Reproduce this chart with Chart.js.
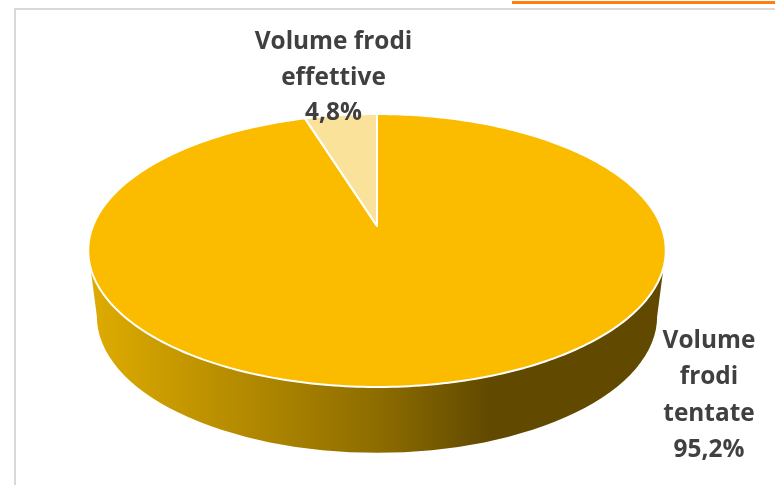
<!DOCTYPE html>
<html>
<head>
<meta charset="utf-8">
<title>Volume frodi</title>
<script src="https://cdn.jsdelivr.net/npm/chart.js@4"></script>
<style>
  html, body { margin: 0; padding: 0; background: #fff; }
  #wrap { position: relative; width: 775px; height: 485px; overflow: hidden; }
  #pieChart { position: absolute; left: 0; top: 0; }
  .rule { position: absolute; background: #d9d9d9; }
  #ruleTop { left: 14px; top: 8px; width: 761px; height: 2px; }
  #ruleLeft { left: 14px; top: 8px; width: 2px; height: 477px; }
  #ruleAccent { left: 512px; top: 1px; width: 263px; height: 3px; background: #ff7f0e; }
</style>
</head>
<body>
<div id="wrap">
  <div class="rule" id="ruleTop"></div>
  <div class="rule" id="ruleLeft"></div>
  <div class="rule" id="ruleAccent"></div>
  <canvas id="pieChart" width="775" height="485"></canvas>
</div>
<script>
const categories = ['Volume frodi tentate', 'Volume frodi effettive'];
const shares = [95.2, 4.8];
const labelLines = [
    ['Volume', 'frodi', 'tentate'],
    ['Volume frodi', 'effettive']
];
const sliceColors = ['#fbbc00', '#fbe29b'];

// Disc tilt, as ratios of the chart's outer radius
const TILT = { x: 1.2625, y: 0.587, persp: 0.1795 };
// Lower rim of the side wall, same units
const WALL = { rx: 1.245, ry: 0.606, drop: 0.402 };

// Label centre and first baseline, relative to the pie centre
const labelOffsets = [
    { x: 332, y: 122, lineHeight: 36.3 },
    { x: -43.5, y: -177, lineHeight: 35.5 }
];

function formatShare(v) {
    return v.toFixed(1).replace('.', ',') + '%';
}

// Maps a point on the flat disc to the screen with a simple perspective divide
function project(arc, angle, radius) {
    const R = arc.outerRadius;
    const u = radius * Math.cos(angle);
    const v = radius * Math.sin(angle);
    const w = 1 - TILT.persp * v;
    return {
        x: arc.x + R * TILT.x * u / w,
        y: arc.y + R * TILT.y * v / w
    };
}

function traceSlice(ctx, arc) {
    const steps = Math.max(8, Math.ceil((arc.endAngle - arc.startAngle) * 60));
    ctx.beginPath();
    const c = project(arc, 0, 0);
    ctx.moveTo(c.x, c.y);
    for (let i = 0; i <= steps; i++) {
        const a = arc.startAngle + (arc.endAngle - arc.startAngle) * i / steps;
        const p = project(arc, a, 1);
        ctx.lineTo(p.x, p.y);
    }
    ctx.closePath();
}

function drawWall(ctx, arc) {
    const R = arc.outerRadius;
    const p2 = TILT.persp * TILT.persp;
    // widest points of the tilted disc, where the wall starts
    const sideX = R * TILT.x / Math.sqrt(1 - p2);
    const sideY = arc.y + R * TILT.y * TILT.persp / (1 - p2);
    const cy = arc.y + R * WALL.drop;
    const rx = R * WALL.rx;
    const ry = R * WALL.ry;

    const grad = ctx.createLinearGradient(arc.x - rx, 0, arc.x + rx, 0);
    grad.addColorStop(0, '#dcaa00');
    grad.addColorStop(0.22, '#ba8f00');
    grad.addColorStop(0.5, '#8e6d00');
    grad.addColorStop(0.7, '#614900');
    grad.addColorStop(1, '#614900');

    ctx.beginPath();
    ctx.moveTo(arc.x - sideX, sideY);
    ctx.lineTo(arc.x - rx, cy);
    ctx.ellipse(arc.x, cy, rx, ry, 0, Math.PI, 0, true);
    ctx.lineTo(arc.x + sideX, sideY);
    ctx.closePath();
    ctx.fillStyle = grad;
    ctx.fill();
}

// Draws the slices tilted with their wall, in place of the flat arcs
const tiltedPie = {
    id: 'tiltedPie',
    beforeDatasetsDraw(chart) {
        const ctx = chart.ctx;
        const arcs = chart.getDatasetMeta(0).data;
        ctx.save();
        drawWall(ctx, arcs[0]);
        arcs.forEach((arc, i) => {
            traceSlice(ctx, arc);
            ctx.fillStyle = sliceColors[i];
            ctx.fill();
            ctx.strokeStyle = '#fff';
            ctx.lineWidth = 2;
            ctx.lineJoin = 'round';
            ctx.stroke();
        });
        ctx.restore();
        return false;
    },
    afterDraw(chart) {
        const ctx = chart.ctx;
        const arcs = chart.getDatasetMeta(0).data;
        ctx.save();
        ctx.font = 'bold 24.4px "Open Sans"';
        ctx.fillStyle = '#404040';
        ctx.textAlign = 'center';
        ctx.textBaseline = 'alphabetic';
        arcs.forEach((arc, i) => {
            const pos = labelOffsets[i];
            const lines = labelLines[i].concat(formatShare(shares[i]));
            lines.forEach((line, n) => {
                ctx.fillText(line, arc.x + pos.x, arc.y + pos.y + n * pos.lineHeight);
            });
        });
        ctx.restore();
    }
};

new Chart(document.getElementById('pieChart'), {
    type: 'pie',
    data: {
        labels: categories,
        datasets: [{
            data: shares,
            backgroundColor: sliceColors,
            borderColor: '#fff'
        }]
    },
    options: {
        responsive: false,
        animation: false,
        layout: { padding: { left: 0, right: 21, top: 0, bottom: 33 } },
        plugins: {
            legend: { display: false },
            tooltip: { enabled: false }
        }
    },
    plugins: [tiltedPie]
});
</script>
</body>
</html>
